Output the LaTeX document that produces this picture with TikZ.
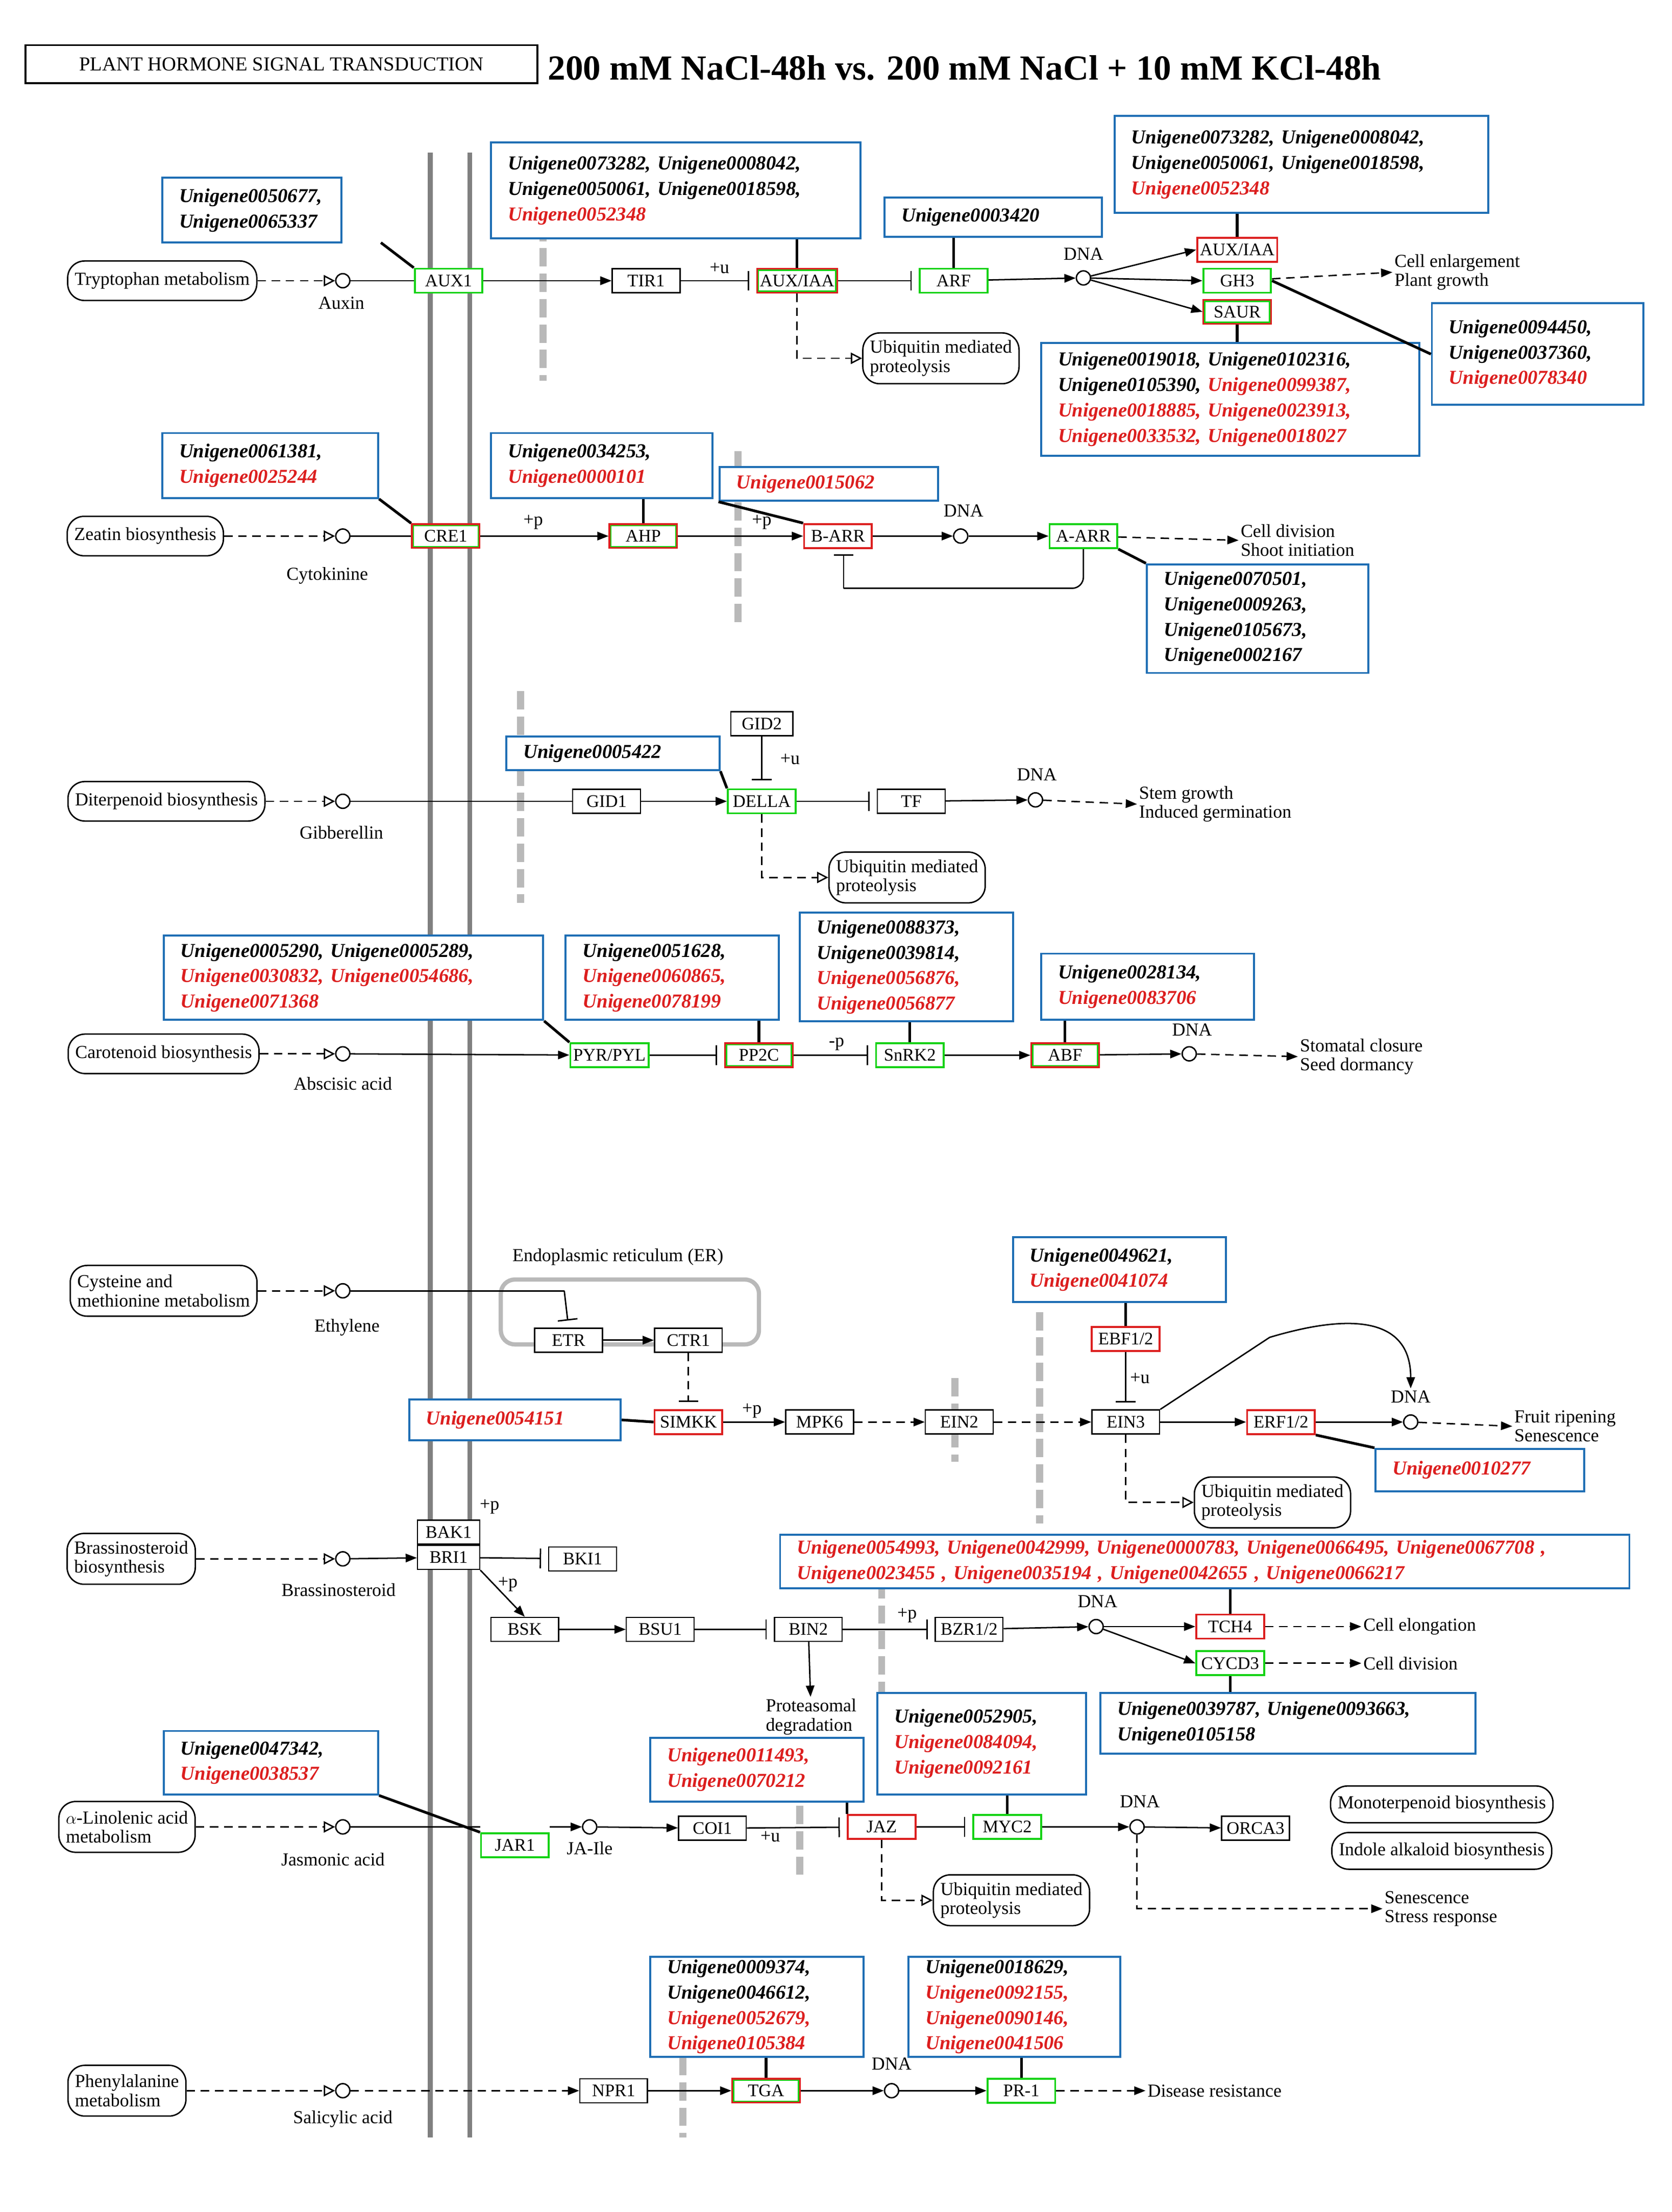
\documentclass[tikz,border=0pt]{standalone}
\usepackage{fontspec}
\setmainfont{Liberation Serif}
\usetikzlibrary{arrows.meta}
\definecolor{kred}{RGB}{220,30,30}
\definecolor{kgreen}{RGB}{20,210,20}
\definecolor{kblue}{RGB}{30,110,180}
\newcommand\gf{\fontsize{12.5}{12.5}\selectfont}
\newcommand\lf{\fontsize{13}{13.5}\selectfont}
\newcommand\rt[1]{\textcolor{kred}{#1}}
\newcommand\bbox[6]{\pgfmathsetmacro\bw{#4-#2}\pgfmathsetmacro\bh{#5-#3}\pgfmathsetmacro\tw{#4-#2-24}%
\node[bb,minimum width=\bw pt,minimum height=\bh pt,text width=\tw pt] (#1) at ({(#2+#4)/2},{(#3+#5)/2}) {#6};}
\tikzset{
 every picture/.style={line width=1pt},
 g/.style={draw,fill=white,font=\gf,minimum width=48pt,minimum height=17pt,inner sep=2pt},
 gr/.style={g,draw=kgreen,line width=1.4pt},
 rd/.style={g,draw=kred,line width=1.4pt},
 rg/.style={g,draw=kred,line width=1.2pt,path picture={\draw[kgreen,line width=3pt](path picture bounding box.south west) rectangle (path picture bounding box.north east);}},
 bk/.style={g,draw=black,line width=0.9pt},
 bb/.style={draw=kblue,line width=1.4pt,fill=white,font=\bfseries\itshape\fontsize{14}{18}\selectfont,align=left,inner xsep=12pt,inner ysep=2pt},
 pill/.style={draw,rounded corners=12pt,minimum height=28pt,font=\lf,align=left,inner sep=5pt,fill=white},
 cir/.style={circle,draw,minimum size=10pt,inner sep=0pt,fill=white},
 lk/.style={line width=1.9pt},
 ds/.style={dash pattern=on 6pt off 4pt},
 ar/.style={-{Triangle[length=8pt,width=6pt]}},
 dar/.style={ds,-{Triangle[length=8pt,width=6pt]}},
 oar/.style={ds,-{Triangle[open,length=8pt,width=8pt]}},
 inh/.style={-{Bar[width=14pt]},shorten >=5pt},
 mem/.style={gray!55,line width=5pt,dash pattern=on 13pt off 5pt},
 lb/.style={font=\lf,inner sep=1pt,align=left},
 outl/.style={font=\lf,inner sep=1pt,align=left,anchor=west}
}
\begin{document}
\begin{tikzpicture}[x=1pt,y=-1pt]
\useasboundingbox[fill=white] (0,0) rectangle (1185,1568);
% title
\node[draw,line width=1.3pt,minimum width=363pt,minimum height=27pt,font=\fontsize{14}{14}\selectfont] (ttl) at (199.5,45.5) {PLANT HORMONE SIGNAL TRANSDUCTION};
\node[anchor=west,font=\bfseries\fontsize{25}{25}\selectfont,inner sep=0pt] (ttl2) at (388,48) {200 mM NaCl-48h vs. 200 mM NaCl + 10 mM KCl-48h};
% membranes
\draw[gray,line width=3.5pt] (305,108) -- (305,1515);
\draw[gray,line width=3.5pt] (333,108) -- (333,1515);
\draw[mem] (385,140) -- (385,270);
\draw[mem] (523,320) -- (523,445);
\draw[mem] (369,490) -- (369,640);
\draw[mem] (677,977) -- (677,1036);
\draw[mem] (737,930) -- (737,1080);
\draw[mem] (625,1120) -- (625,1230);
\draw[mem] (567,1280) -- (567,1330);
\draw[mem] (484,1440) -- (484,1515);

%%%% Row 1 auxin
\node[pill] (trp) at (115,199) {Tryptophan metabolism};
\node[cir] (c1) at (243,199) {}; \node[lb] at (242,215) {Auxin};
\draw[oar] (trp) -- (c1);
\node[gr] (aux1) at (318,199) {AUX1};
\node[bk] (tir1) at (458,199) {TIR1};
\node[rg] (auxiaa) at (565,199) {AUX/IAA};
\node[gr] (arf) at (676,199) {ARF};
\node[cir] (d1) at (768,197) {}; \node[lb] at (768,180) {DNA};
\node[rd] (auxiaa2) at (877,177) {AUX/IAA};
\node[gr] (gh3) at (877,199) {GH3};
\node[rg] (saur) at (877,221) {SAUR};
\draw (c1) -- (aux1); \draw[ar] (aux1) -- (tir1);
\draw[inh] (tir1) -- (auxiaa); \node[lb] at (510,190) {+u};
\draw[inh] (auxiaa) -- (arf); \draw[ar] (arf) -- (d1);
\draw[ar] (d1) -- (auxiaa2.west); \draw[ar] (d1) -- (gh3.west); \draw[ar] (d1) -- (saur.west);
\node[outl] (o1) at (987,193) {Cell enlargement\\Plant growth};
\draw[dar] (gh3) -- (o1.west);
\node[pill,minimum height=36pt] (ub1) at (667,254) {Ubiquitin mediated\\proteolysis};
\draw[oar] (auxiaa.south) |- (ub1.west);
\bbox{b11}{115}{126}{242}{172}{Unigene0050677,\\Unigene0065337}
\bbox{b12}{348}{101}{610}{169}{Unigene0073282, Unigene0008042,\\Unigene0050061, Unigene0018598,\\\rt{Unigene0052348}}
\bbox{b13}{627}{140}{781}{168}{Unigene0003420}
\bbox{b14}{790}{82}{1055}{151}{Unigene0073282, Unigene0008042,\\Unigene0050061, Unigene0018598,\\\rt{Unigene0052348}}
\bbox{b15}{1015}{215}{1165}{287}{Unigene0094450,\\Unigene0037360,\\\rt{Unigene0078340}}
\bbox{b16}{738}{243}{1006}{323}{Unigene0019018, Unigene0102316,\\Unigene0105390, \rt{Unigene0099387,}\\\rt{Unigene0018885, Unigene0023913,}\\\rt{Unigene0033532, Unigene0018027}}
\draw[lk] (270,172) -- (aux1.north west);
\draw[lk] (auxiaa.north) -- (auxiaa.north |- b12.south);
\draw[lk] (arf.north) -- (arf.north |- b13.south);
\draw[lk] (auxiaa2.north) -- (auxiaa2.north |- b14.south);
\draw[lk] (gh3.east) -- (b15.west);
\draw[lk] (saur.south) -- (saur.south |- b16.north);

%%%% Row 2 cytokinin
\node[pill] (zea) at (103,380) {Zeatin biosynthesis};
\node[cir] (c2) at (243,380) {}; \node[lb] at (232,408) {Cytokinine};
\draw[oar] (zea) -- (c2);
\node[rg] (cre1) at (316,380) {CRE1};
\node[rg] (ahp) at (456,380) {AHP};
\node[rd] (barr) at (594,380) {B-ARR};
\node[cir] (d2) at (681,380) {}; \node[lb] at (683,362) {DNA};
\node[gr] (aarr) at (768,380) {A-ARR};
\draw (c2) -- (cre1); \draw[ar] (cre1) -- (ahp); \node[lb] at (378,370) {+p};
\draw[ar] (ahp) -- (barr); \node[lb] at (540,370) {+p};
\draw[ar] (barr) -- (d2); \draw[ar] (d2) -- (aarr);
\coordinate (lp2) at (598,417);
\draw[rounded corners=8pt] (aarr.south) |- (lp2);
\draw[-{Bar[width=14pt]}] (lp2) -- (598,393);
\node[outl] (o2) at (878,383) {Cell division\\Shoot initiation};
\draw[dar] (aarr) -- (o2.west);
\bbox{b21}{115}{307}{268}{353}{Unigene0061381,\\\rt{Unigene0025244}}
\bbox{b22}{348}{307}{505}{353}{Unigene0034253,\\\rt{Unigene0000101}}
\bbox{b23}{510}{331}{665}{355}{\rt{Unigene0015062}}
\bbox{b24}{813}{400}{970}{477}{Unigene0070501,\\Unigene0009263,\\Unigene0105673,\\Unigene0002167}
\draw[lk] (b21.south east) -- (cre1.north west);
\draw[lk] (ahp.north) -- (ahp.north |- b22.south);
\draw[lk] (barr.north west) -- (b23.south west);
\draw[lk] (aarr.south east) -- (b24.north west);

%%%% Row 3 gibberellin
\node[pill] (dit) at (118,568) {Diterpenoid biosynthesis};
\node[cir] (c3) at (243,568) {}; \node[lb] at (242,590) {Gibberellin};
\draw[oar] (dit) -- (c3);
\node[bk] (gid1) at (430,568) {GID1};
\node[gr] (della) at (540,568) {DELLA};
\node[bk,minimum width=44pt] (gid2) at (540,513) {GID2};
\node[bk] (tf) at (646,568) {TF};
\node[cir] (d3) at (734,567) {}; \node[lb] at (735,549) {DNA};
\draw (c3) -- (gid1); \draw[ar] (gid1) -- (della);
\draw[-{Bar[width=14pt]}] (gid2) -- (540,553); \node[lb] at (560,538) {+u};
\draw[inh] (della) -- (tf); \draw[ar] (tf) -- (d3);
\node[outl] (o3) at (806,570) {Stem growth\\Induced germination};
\draw[dar] (d3) -- (o3.west);
\node[pill,minimum height=36pt] (ub3) at (643,622) {Ubiquitin mediated\\proteolysis};
\draw[oar] (della.south) |- (ub3.west);
\bbox{b31}{359}{522}{510}{546}{Unigene0005422}
\draw[lk] (b31.south east) -- (della.north west);

%%%% Row 4 ABA
\node[pill] (car) at (116,747) {Carotenoid biosynthesis};
\node[cir] (c4) at (243,747) {}; \node[lb] at (243,768) {Abscisic acid};
\draw[oar] (car) -- (c4);
\node[gr,minimum width=52pt] (pyr) at (432,748) {PYR/PYL};
\node[rg] (pp2c) at (538,748) {PP2C};
\node[gr] (snrk2) at (645,748) {SnRK2};
\node[rg] (abf) at (755,748) {ABF};
\node[cir] (d4) at (843,747) {}; \node[lb] at (845,730) {DNA};
\draw[ar] (c4) -- (pyr); \draw[inh] (pyr) -- (pp2c);
\draw[inh] (pp2c) -- (snrk2); \node[lb] at (593,740) {-p};
\draw[ar] (snrk2) -- (abf); \draw[ar] (abf) -- (d4);
\node[outl] (o4) at (920,749) {Stomatal closure\\Seed dormancy};
\draw[dar] (d4) -- (o4.west);
\bbox{b41}{116}{663}{385}{723}{Unigene0005290, Unigene0005289,\\\rt{Unigene0030832, Unigene0054686,}\\\rt{Unigene0071368}}
\bbox{b42}{401}{663}{552}{723}{Unigene0051628,\\\rt{Unigene0060865,}\\\rt{Unigene0078199}}
\bbox{b43}{567}{647}{718}{724}{Unigene0088373,\\Unigene0039814,\\\rt{Unigene0056876,}\\\rt{Unigene0056877}}
\bbox{b44}{738}{676}{889}{723}{Unigene0028134,\\\rt{Unigene0083706}}
\draw[lk] (b41.south east) -- (pyr.north west);
\draw[lk] (pp2c.north) -- (pp2c.north |- b42.south);
\draw[lk] (snrk2.north) -- (snrk2.north |- b43.south);
\draw[lk] (abf.north) -- (abf.north |- b44.south);

%%%% Row 5 ethylene
\draw[gray!55,line width=3pt,rounded corners=10pt] (355,907) rectangle (538,953);
\node[lb] at (438,891) {Endoplasmic reticulum (ER)};
\node[pill,minimum height=36pt] (cys) at (116,915) {Cysteine and\\methionine metabolism};
\node[cir] (c5) at (243,915) {}; \node[lb] at (246,941) {Ethylene};
\draw[oar] (cys) -- (c5);
\node[bk] (etr) at (403,950) {ETR};
\node[bk] (ctr1) at (488,950) {CTR1};
\node[rd] (simkk) at (488,1008) {SIMKK};
\node[bk] (mpk6) at (581,1008) {MPK6};
\node[bk] (ein2) at (680,1008) {EIN2};
\node[bk] (ein3) at (798,1008) {EIN3};
\node[rd] (ebf) at (798,949) {EBF1/2};
\node[rd] (erf) at (908,1008) {ERF1/2};
\node[cir] (d5) at (1000,1008) {}; \node[lb] (dl5) at (1000,990) {DNA};
\coordinate (k5) at (400,915);
\draw (c5) -- (k5); \draw[inh] (k5) -- (etr.north);
\draw[ar] (etr) -- (ctr1);
\draw[ds,-{Bar[width=14pt]},shorten >=5pt] (ctr1) -- (simkk);
\draw[ar] (simkk) -- (mpk6); \node[lb] at (533,1000) {+p};
\draw[dar] (mpk6) -- (ein2); \draw[dar] (ein2) -- (ein3);
\draw[inh] (ebf) -- (ein3); \node[lb] at (808,977) {+u};
\draw[ar] (ein3) -- (erf); \draw[ar] (erf) -- (d5);
\draw[ar] (ein3.north east) -- (900,948) .. controls (960,930) and (1000,935) .. (dl5.north);
\node[outl] (o5) at (1072,1011) {Fruit ripening\\Senescence};
\draw[dar] (d5) -- (o5.west);
\node[pill,minimum height=36pt] (ub5) at (902,1065) {Ubiquitin mediated\\proteolysis};
\draw[oar] (ein3.south) |- (ub5.west);
\bbox{b51}{290}{992}{440}{1021}{\rt{Unigene0054151}}
\bbox{b52}{718}{877}{869}{923}{Unigene0049621,\\\rt{Unigene0041074}}
\bbox{b53}{975}{1027}{1123}{1057}{\rt{Unigene0010277}}
\draw[lk] (b51.east) -- (simkk.west);
\draw[lk] (ebf.north) -- (ebf.north |- b52.south);
\draw[lk] (erf.south east) -- (b53.north west);

%%%% Row 6 brassinosteroid
\node[pill,minimum height=36pt] (bra) at (93,1105) {Brassinosteroid\\biosynthesis};
\node[cir] (c6) at (243,1105) {}; \node[lb] at (240,1127) {Brassinosteroid};
\draw[oar] (bra) -- (c6);
\node[bk,minimum width=44pt] (bak1) at (318,1086) {BAK1};
\node[bk,minimum width=44pt] (bri1) at (318,1104) {BRI1};
\node[lb] at (347,1068) {+p};
\node[bk] (bki1) at (413,1105) {BKI1};
\node[bk] (bsk) at (372,1155) {BSK};
\node[bk] (bsu1) at (468,1155) {BSU1};
\node[bk] (bin2) at (573,1155) {BIN2};
\node[lb] (pdeg) at (575,1217) {Proteasomal\\degradation};
\node[bk] (bzr) at (687,1155) {BZR1/2};
\node[cir] (d6) at (777,1153) {}; \node[lb] at (778,1135) {DNA};
\node[rd] (tch4) at (872,1153) {TCH4};
\node[gr] (cycd3) at (872,1179) {CYCD3};
\draw[ar] (c6) -- (bri1); \draw[inh] (bri1) -- (bki1);
\draw[ar] (bri1.south east) -- (bsk.north); \node[lb] at (360,1123) {+p};
\draw[ar] (bsk) -- (bsu1); \draw[inh] (bsu1) -- (bin2);
\draw[ar] (bin2) -- (pdeg);
\draw[inh] (bin2) -- (bzr); \node[lb] at (643,1145) {+p};
\draw[ar] (bzr) -- (d6); \draw[ar] (d6) -- (tch4.west); \draw[ar] (d6) -- (cycd3.west);
\node[outl] (o61) at (965,1153) {Cell elongation};
\node[outl] (o62) at (965,1179) {Cell division};
\draw[dar] (tch4) -- (o61.west); \draw[dar] (cycd3) -- (o62.west);
\bbox{b61}{553}{1088}{1155}{1126}{\rt{Unigene0054993, Unigene0042999, Unigene0000783, Unigene0066495, Unigene0067708 ,}\\\rt{Unigene0023455 , Unigene0035194 , Unigene0042655 , Unigene0066217}}
\bbox{b62}{780}{1200}{1046}{1243}{Unigene0039787, Unigene0093663,\\Unigene0105158}
\draw[lk] (tch4.north) -- (tch4.north |- b61.south);
\draw[lk] (cycd3.south) -- (cycd3.south |- b62.north);

%%%% Row 7 jasmonic acid
\node[pill,minimum height=36pt] (lin) at (90,1295) {$\alpha$-Linolenic acid\\metabolism};
\node[cir] (c7) at (243,1295) {}; \node[lb] at (236,1318) {Jasmonic acid};
\draw[oar] (lin) -- (c7);
\node[gr] (jar1) at (365,1308) {JAR1};
\node[cir] (ja) at (418,1295) {}; \node[lb] at (418,1310) {JA-Ile};
\node[bk] (coi1) at (505,1296) {COI1};
\node[rd] (jaz) at (625,1295) {JAZ};
\node[gr] (myc2) at (714,1295) {MYC2};
\node[cir] (d7) at (806,1295) {}; \node[lb] at (808,1277) {DNA};
\node[bk] (orca3) at (890,1296) {ORCA3};
\node[pill,minimum height=26pt] (mono) at (1022,1279) {Monoterpenoid biosynthesis};
\node[pill,minimum height=26pt] (indo) at (1022,1312) {Indole alkaloid biosynthesis};
\draw (c7) -- (jar1.west |- c7); 
\draw[ar] (jar1.east |- ja) -- (ja);
\draw[ar] (ja) -- (coi1); \draw[inh] (coi1) -- (jaz); \node[lb] at (546,1302) {+u};
\draw[inh] (jaz) -- (myc2); \draw[ar] (myc2) -- (d7); \draw[ar] (d7) -- (orca3);
\node[outl] (o7) at (980,1353) {Senescence\\Stress response};
\draw[dar] (d7.south) |- (o7.west);
\node[pill,minimum height=36pt] (ub7) at (717,1347) {Ubiquitin mediated\\proteolysis};
\draw[oar] (jaz.south) |- (ub7.west);
\bbox{b71}{116}{1227}{268}{1272}{Unigene0047342,\\\rt{Unigene0038537}}
\bbox{b72}{461}{1232}{612}{1277}{\rt{Unigene0011493,}\\\rt{Unigene0070212}}
\bbox{b73}{622}{1200}{770}{1272}{Unigene0052905,\\\rt{Unigene0084094,}\\\rt{Unigene0092161}}
\draw[lk] (b71.south east) -- (jar1.north west);
\draw[lk] (jaz.north west) -- (jaz.north west |- b72.south);
\draw[lk] (myc2.north) -- (myc2.north |- b73.south);

%%%% Row 8 salicylic acid
\node[pill,minimum height=36pt] (phe) at (90,1482) {Phenylalanine\\metabolism};
\node[cir] (c8) at (243,1482) {}; \node[lb] at (243,1502) {Salicylic acid};
\draw[oar] (phe) -- (c8);
\node[bk] (npr1) at (435,1482) {NPR1};
\node[rg] (tga) at (543,1482) {TGA};
\node[cir] (d8) at (632,1482) {}; \node[lb] at (632,1463) {DNA};
\node[gr] (pr1) at (724,1482) {PR-1};
\draw[dar] (c8) -- (npr1); \draw[ar] (npr1) -- (tga); \draw[ar] (tga) -- (d8); \draw[ar] (d8) -- (pr1);
\node[outl] (o8) at (812,1482) {Disease resistance};
\draw[dar] (pr1) -- (o8.west);
\bbox{b81}{461}{1387}{612}{1458}{Unigene0009374,\\Unigene0046612,\\\rt{Unigene0052679,}\\\rt{Unigene0105384}}
\bbox{b82}{644}{1387}{794}{1458}{Unigene0018629,\\\rt{Unigene0092155,}\\\rt{Unigene0090146,}\\\rt{Unigene0041506}}
\draw[lk] (tga.north) -- (tga.north |- b81.south);
\draw[lk] (pr1.north) -- (pr1.north |- b82.south);
\end{tikzpicture}
\end{document}
